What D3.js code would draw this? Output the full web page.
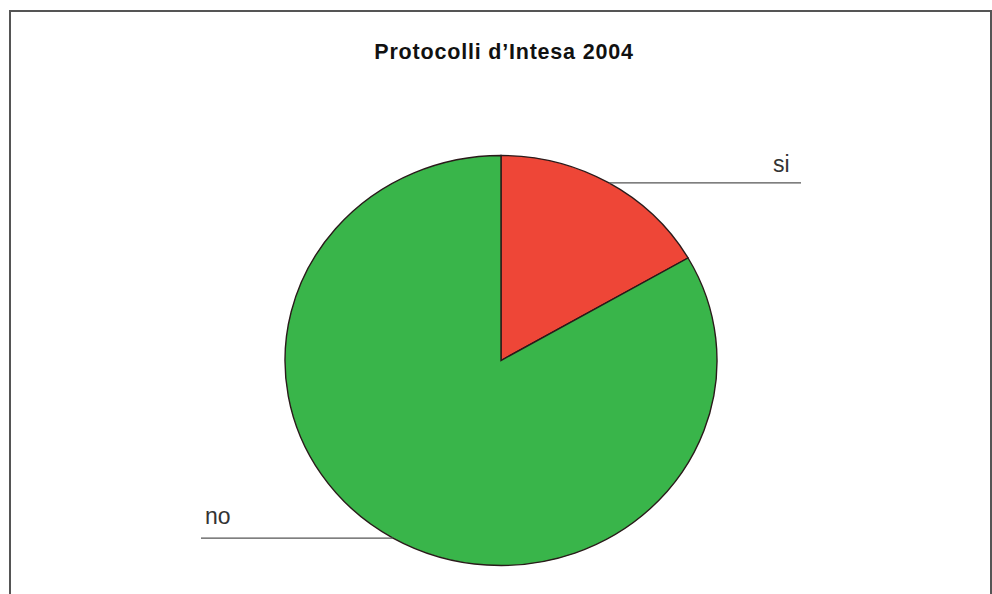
<!DOCTYPE html>
<html>
<head>
<meta charset="utf-8">
<script src="https://cdn.jsdelivr.net/npm/d3@7"></script>
<style>
  html, body { margin: 0; padding: 0; background: #fff; }
  svg { display: block; }
</style>
</head>
<body>
<svg id="chart" width="992" height="594"></svg>
<script>
// Protocol agreements signed in 2004
const categories = ["si", "no"];
const values = [1, 5];
const colors = ["#ee4637", "#39b54a"];
const title = "Protocolli d\u2019Intesa 2004";

const svg = d3.select("#chart");
const W = 992, H = 594;

// frame
svg.append("path")
  .attr("d", `M10,${H + 5}V11H991V${H + 5}`)
  .attr("fill", "none")
  .attr("stroke", "#555")
  .attr("stroke-width", 2);

svg.append("text")
  .attr("x", 504)
  .attr("y", 58.5)
  .attr("text-anchor", "middle")
  .attr("font-family", "Liberation Sans, Arial, sans-serif")
  .attr("font-weight", "bold")
  .attr("font-size", 21.5)
  .attr("letter-spacing", 0.8)
  .attr("fill", "#111")
  .text(title);

const cx = 501, cy = 360.5, rx = 216, ry = 205;

const pie = d3.pie().sort(null).value(d => d)(values);
const arc = d3.arc().innerRadius(0).outerRadius(rx);

const g = svg.append("g")
  .attr("transform", `translate(${cx},${cy}) scale(1,${ry / rx})`);

g.selectAll("path.slice")
  .data(pie)
  .join("path")
  .attr("class", "slice")
  .attr("d", arc)
  .attr("fill", (d, i) => colors[i])
  .attr("stroke", "#2a1a1a")
  .attr("stroke-width", 1.4)
  .attr("vector-effect", "non-scaling-stroke");

// leader lines and labels
const lineEnds = [801, 201];
const labelLift = [11, 14.5];
pie.forEach((d, i) => {
  const a = (d.startAngle + d.endAngle) / 2;
  const px = cx + rx * Math.sin(a);
  const py = cy - ry * Math.cos(a);
  const ex = lineEnds[i];
  svg.append("line")
    .attr("x1", px).attr("y1", py)
    .attr("x2", ex).attr("y2", py)
    .attr("stroke", "#555")
    .attr("stroke-width", 1.3);
  const right = ex > px;
  svg.append("text")
    .attr("x", right ? ex - 11.5 : ex + 4)
    .attr("y", py - labelLift[i])
    .attr("text-anchor", right ? "end" : "start")
    .attr("font-family", "Liberation Sans, Arial, sans-serif")
    .attr("font-size", 23)
    .attr("fill", "#333")
    .text(categories[i]);
});
</script>
</body>
</html>
